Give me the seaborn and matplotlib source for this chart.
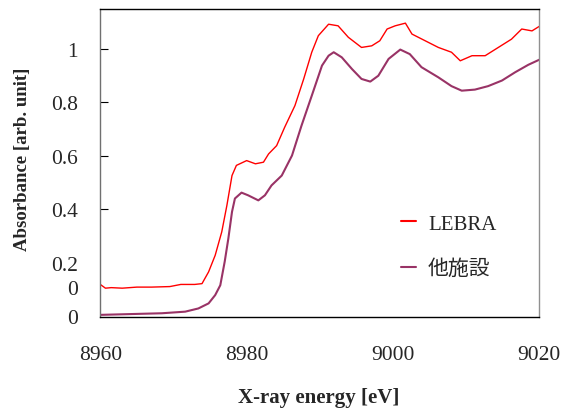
import matplotlib
matplotlib.use("Agg")
import matplotlib.pyplot as plt
import numpy as np
import pandas as pd
import seaborn as sns

# ---- data ----
series_names = ["LEBRA", "他施設"]

lebra_energy = [8960.0, 8960.7, 8961.5, 8963.0, 8965.0, 8967.0, 8969.5, 8971.0, 8972.9, 8973.9,
                8974.8, 8975.7, 8976.6, 8977.3, 8978.0, 8978.6, 8980.0, 8981.2, 8982.3, 8983.0,
                8984.1, 8985.2, 8986.6, 8987.8, 8988.9, 8989.8, 8991.2, 8992.5, 8993.9, 8995.7,
                8997.1, 8998.2, 8999.2, 9000.3, 9001.7, 9002.6, 9004.4, 9006.2, 9008.0, 9009.2,
                9010.8, 9012.6, 9014.4, 9016.2, 9017.6, 9019.0, 9020.0]
lebra_abs = [0.118, 0.104, 0.106, 0.104, 0.108, 0.108, 0.110, 0.118, 0.118, 0.121,
             0.165, 0.227, 0.315, 0.414, 0.526, 0.564, 0.582, 0.570, 0.576, 0.607,
             0.638, 0.707, 0.788, 0.888, 0.988, 1.050, 1.093, 1.087, 1.044, 1.006,
             1.012, 1.031, 1.075, 1.087, 1.097, 1.056, 1.031, 1.006, 0.988, 0.956,
             0.975, 0.975, 1.006, 1.037, 1.075, 1.068, 1.085]

other_energy = [8960.0, 8968.4, 8971.6, 8973.4, 8974.8, 8975.7, 8976.4, 8977.0, 8977.5, 8978.0,
                8978.4, 8979.3, 8980.2, 8981.6, 8982.5, 8983.4, 8984.8, 8986.2, 8987.5, 8988.9,
                8990.3, 8991.2, 8991.9, 8993.0, 8994.4, 8995.7, 8996.9, 8998.0, 8999.4, 9001.0,
                9002.3, 9003.9, 9006.2, 9008.0, 9009.4, 9011.2, 9013.0, 9014.9, 9016.7, 9018.5,
                9020.0]
other_abs = [0.004, 0.010, 0.016, 0.028, 0.047, 0.078, 0.115, 0.203, 0.290, 0.390,
             0.440, 0.462, 0.452, 0.433, 0.452, 0.489, 0.526, 0.601, 0.713, 0.825,
             0.938, 0.975, 0.988, 0.969, 0.925, 0.888, 0.878, 0.900, 0.963, 0.998,
             0.981, 0.932, 0.894, 0.861, 0.844, 0.848, 0.861, 0.882, 0.913, 0.941,
             0.960]

x_ticks = [8960, 8980, 9000, 9020]
x_tick_labels = ["8960", "8980", "9000", "9020"]
y_ticks = [0.0, 0.11, 0.2, 0.4, 0.6, 0.8, 1.0]
y_tick_labels = ["0", "0", "0.2", "0.4", "0.6", "0.8", "1"]
x_label = "X-ray energy [eV]"
y_label = "Absorbance [arb. unit]"

# ---- styling ----
sns.set_theme(style="white")
plt.rcParams["font.family"] = ["Liberation Serif", "Noto Sans CJK JP"]

df = pd.concat([
    pd.DataFrame({"energy": lebra_energy, "absorbance": lebra_abs, "source": series_names[0]}),
    pd.DataFrame({"energy": other_energy, "absorbance": other_abs, "source": series_names[1]}),
])

fig = plt.figure(figsize=(5.71, 4.10), dpi=100)
ax = fig.add_axes([100.3 / 571, 1 - 318 / 410, 439 / 571, 308 / 410])

palette = {series_names[0]: "#ff0000", series_names[1]: "#993366"}
sns.lineplot(data=df[df.source == series_names[0]], x="energy", y="absorbance",
             color=palette[series_names[0]], linewidth=1.0, ax=ax, label=series_names[0],
             sort=True, estimator=None)
sns.lineplot(data=df[df.source == series_names[1]], x="energy", y="absorbance",
             color=palette[series_names[1]], linewidth=1.5, ax=ax, label=series_names[1],
             sort=True, estimator=None)

ax.set_xlim(8960, 9020)
ax.set_ylim(-0.004, 1.15)

ax.set_xticks(x_ticks)
ax.set_xticklabels(x_tick_labels)
ax.set_yticks(y_ticks)
ax.set_yticklabels(y_tick_labels)
ax.tick_params(axis="x", direction="in", length=8, width=1.2, color="#808080",
               labelsize=15.5, pad=20)
ax.tick_params(axis="y", direction="in", length=6, width=0.8, color="black",
               labelsize=15.5, pad=16, left=True)
for t in ax.yaxis.get_major_ticks()[:3]:
    t.tick1line.set_visible(False)

for side, col in [("top", "black"), ("bottom", "black"), ("left", "#707070"), ("right", "#909090")]:
    ax.spines[side].set_visible(True)
    ax.spines[side].set_color(col)
    ax.spines[side].set_linewidth(1.0)

ax.set_xlabel(x_label, fontsize=15, fontweight="bold")
ax.set_ylabel(y_label, fontsize=13.5, fontweight="bold")
ax.xaxis.set_label_coords(0.497, -0.26)
ax.xaxis.label.set_verticalalignment("center")
ax.yaxis.set_label_coords(-0.178, 0.515)
ax.yaxis.label.set_verticalalignment("center")

leg = ax.legend(loc="upper left", bbox_to_anchor=(401 / 571, 1 - 215 / 410),
                bbox_transform=fig.transFigure, frameon=False, fontsize=15,
                handlelength=0.7, handletextpad=0.6, labelspacing=1.25,
                borderpad=0, borderaxespad=0)
for line in leg.get_lines():
    line.set_linewidth(1.5)

ax.grid(False)
fig.savefig("out.png", dpi=100)
